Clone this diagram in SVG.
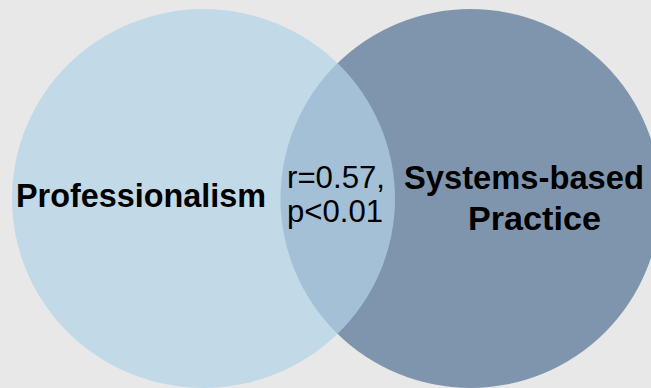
<svg xmlns="http://www.w3.org/2000/svg" width="651" height="388" viewBox="0 0 651 388">
  <style>
    .bold { font-family: "Liberation Sans", Arial, sans-serif; font-weight: bold; font-size: 34px; fill: #000; }
    .reg { font-family: "Liberation Sans", Arial, sans-serif; font-size: 31px; fill: #000; }
  </style>
  <rect x="0" y="0" width="651" height="388" fill="#e8e8e8"/>
  <g id="systems-based-practice">
    <ellipse cx="470.5" cy="198.5" rx="190" ry="189.5" fill="#7f95ad"/>
  </g>
  <g id="professionalism">
    <ellipse cx="203.5" cy="198.5" rx="191.5" ry="189.5" fill="rgb(178,211,231)" fill-opacity="0.7"/>
  </g>
  <g id="connectors"/>
  <g id="labels">
    <text class="bold" x="16" y="207" textLength="250" lengthAdjust="spacingAndGlyphs">Professionalism</text>
    <text class="bold" x="404" y="189" textLength="240" lengthAdjust="spacingAndGlyphs">Systems-based</text>
    <text class="bold" x="468" y="230" textLength="133" lengthAdjust="spacingAndGlyphs">Practice</text>
  </g>
  <g id="overlap">
    <text class="reg" x="287" y="188" textLength="98" lengthAdjust="spacingAndGlyphs">r=0.57,</text>
    <text class="reg" x="287" y="222" textLength="96" lengthAdjust="spacingAndGlyphs">p&lt;0.01</text>
  </g>
</svg>
